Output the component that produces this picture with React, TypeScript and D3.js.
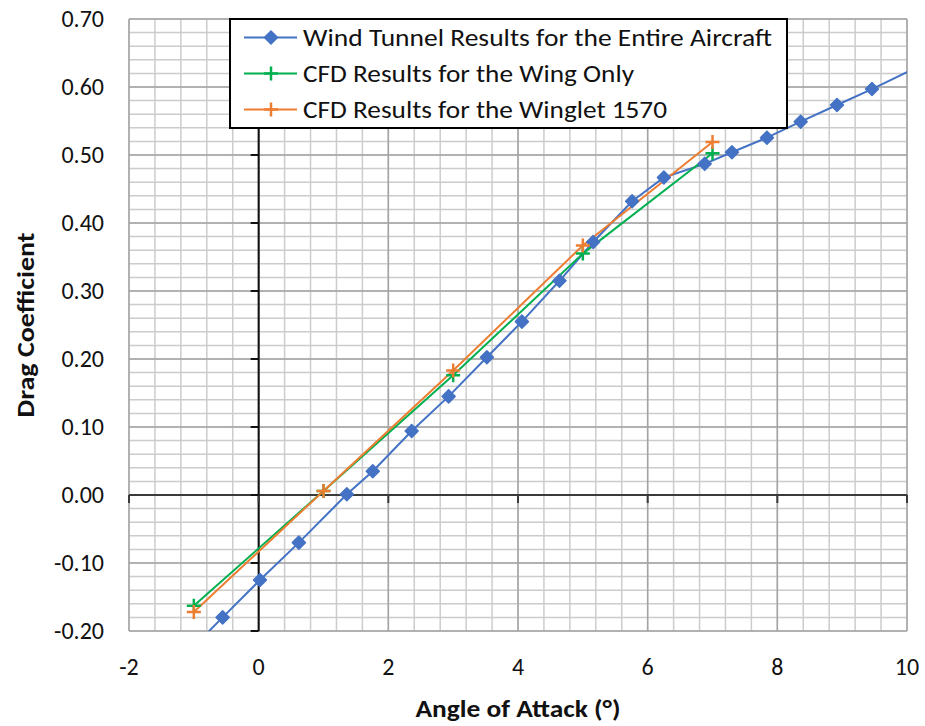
import React from 'react';
import * as d3 from 'd3';

const windAoA = [-1.15, -0.556, 0.02, 0.62, 1.36, 1.76, 2.36, 2.93, 3.52, 4.06, 4.64, 5.16, 5.76, 6.25, 6.88, 7.30, 7.84, 8.36, 8.92, 9.46, 10.55];
const windCd = [-0.237, -0.180, -0.125, -0.070, 0.001, 0.035, 0.094, 0.145, 0.2025, 0.255, 0.315, 0.372, 0.432, 0.467, 0.487, 0.504, 0.5255, 0.549, 0.5735, 0.597, 0.647];
const wingAoA = [-1, 1, 3, 5, 7];
const wingCd = [-0.163, 0.006, 0.176, 0.355, 0.5025];
const wingletAoA = [-1, 1, 3, 5, 7];
const wingletCd = [-0.172, 0.006, 0.183, 0.367, 0.519];
const xTicks = [-2, 0, 2, 4, 6, 8, 10];
const yTicks = [-0.2, -0.1, 0, 0.1, 0.2, 0.3, 0.4, 0.5, 0.6, 0.7];
const seriesNames = [
  'Wind Tunnel Results for the Entire Aircraft',
  'CFD Results for the Wing Only',
  'CFD Results for the Winglet 1570',
];
const xTitle = 'Angle of Attack (°)';
const yTitle = 'Drag Coefficient';

const BLUE = '#4472C4';
const GREEN = '#00B050';
const ORANGE = '#ED7D31';
const FONT = "Carlito, Calibri, Lato, 'Open Sans', sans-serif";

export default function App() {
  const W = 925, H = 726;
  const x = d3.scaleLinear().domain([-2, 10]).range([129, 907]);
  const y = d3.scaleLinear().domain([-0.2, 0.7]).range([631, 19]);
  const [x0, x1] = x.range();
  const [y0, y1] = y.range();

  const minorX = d3.range(0, 31).map(i => -2 + i * 0.4);
  const minorY = d3.range(0, 46).map(i => -0.2 + i * 0.02);

  const line = d3.line<[number, number]>().x(d => x(d[0])).y(d => y(d[1]));
  const wind = windAoA.map((v, i) => [v, windCd[i]] as [number, number]);
  const wing = wingAoA.map((v, i) => [v, wingCd[i]] as [number, number]);
  const winglet = wingletAoA.map((v, i) => [v, wingletCd[i]] as [number, number]);

  const fmtY = (v: number) => d3.format('.2f')(v).replace('\u2212', '-');

  const diamond = (cx: number, cy: number, r: number) =>
    `M${cx},${cy - r}L${cx + r},${cy}L${cx},${cy + r}L${cx - r},${cy}Z`;
  const plus = (cx: number, cy: number, r: number) =>
    `M${cx - r},${cy}L${cx + r},${cy}M${cx},${cy - r}L${cx},${cy + r}`;

  const legendRows = [
    { name: seriesNames[0], color: BLUE, kind: 'diamond', len: 469 },
    { name: seriesNames[1], color: GREEN, kind: 'plus', len: 331 },
    { name: seriesNames[2], color: ORANGE, kind: 'plus', len: 364 },
  ];

  return (
    <svg width={W} height={H} style={{ position: 'absolute', left: 0, top: 0, background: '#fff' }} fontFamily={FONT}>
      <defs>
        <clipPath id="plotClip">
          <rect x={x0} y={y1} width={x1 - x0} height={y0 - y1} />
        </clipPath>
      </defs>
      <rect x={0} y={0} width={W} height={H} fill="#fff" />
      {/* minor grid */}
      {minorX.map((v, i) => (
        <line key={'mx' + i} x1={x(v)} x2={x(v)} y1={y1} y2={y0} stroke="#cccccc" strokeWidth={1.5} />
      ))}
      {minorY.map((v, i) => (
        <line key={'my' + i} x1={x0} x2={x1} y1={y(v)} y2={y(v)} stroke="#cccccc" strokeWidth={1.5} />
      ))}
      {/* major grid */}
      {xTicks.map(v => (
        <line key={'Mx' + v} x1={x(v)} x2={x(v)} y1={y1} y2={y0} stroke="#a3a3a3" strokeWidth={1.5} />
      ))}
      {yTicks.map(v => (
        <line key={'My' + v} x1={x0} x2={x1} y1={y(v)} y2={y(v)} stroke="#a3a3a3" strokeWidth={1.5} />
      ))}
      {/* axes */}
      <line x1={x0} x2={x1} y1={y(0)} y2={y(0)} stroke="#3a3a3a" strokeWidth={2} />
      <line x1={x(0)} x2={x(0)} y1={y1} y2={y0} stroke="#111" strokeWidth={2} />
      {xTicks.map(v => (
        <line key={'tx' + v} x1={x(v)} x2={x(v)} y1={y(0)} y2={y(0) + 8} stroke="#3a3a3a" strokeWidth={2} />
      ))}
      {yTicks.map(v => (
        <line key={'ty' + v} x1={x(0) - 8} x2={x(0)} y1={y(v)} y2={y(v)} stroke="#111" strokeWidth={2} />
      ))}
      {/* series */}
      <g clipPath="url(#plotClip)">
        <path d={line(wind) || ''} fill="none" stroke={BLUE} strokeWidth={2} />
        <path d={line(wing) || ''} fill="none" stroke={GREEN} strokeWidth={2} />
        <path d={line(winglet) || ''} fill="none" stroke={ORANGE} strokeWidth={2} />
        {wind.map((d, i) => (
          <path key={'wd' + i} d={diamond(x(d[0]), y(d[1]), 6.5)} fill={BLUE} stroke={BLUE} strokeWidth={1.5} strokeLinejoin="round" />
        ))}
        {wing.map((d, i) => (
          <path key={'wg' + i} d={plus(x(d[0]), y(d[1]), 7)} fill="none" stroke={GREEN} strokeWidth={2.5} />
        ))}
        {winglet.map((d, i) => (
          <path key={'wl' + i} d={plus(x(d[0]), y(d[1]), 7)} fill="none" stroke={ORANGE} strokeWidth={2.5} />
        ))}
      </g>
      {/* tick labels */}
      {yTicks.map(v => (
        <text key={'ly' + v} x={104} y={y(v)} dy="0.35em" textAnchor="end" fontSize={24} fill="#111">
          {fmtY(v)}
        </text>
      ))}
      {xTicks.map(v => (
        <text key={'lx' + v} x={x(v)} y={667} dy="0.35em" textAnchor="middle" fontSize={24} fill="#111">
          {String(v)}
        </text>
      ))}
      {/* axis titles */}
      <text x={518} y={709} dy="0.35em" textAnchor="middle" fontSize={24} fontWeight="bold" fill="#111" textLength={205} lengthAdjust="spacingAndGlyphs">
        {xTitle}
      </text>
      <text transform="translate(26,325) rotate(-90)" dy="0.35em" textAnchor="middle" fontSize={24} fontWeight="bold" fill="#111" textLength={185} lengthAdjust="spacingAndGlyphs">
        {yTitle}
      </text>
      {/* legend */}
      <rect x={230} y={19} width={557} height={109} fill="#fff" stroke="#000" strokeWidth={2} />
      {legendRows.map((r, i) => {
        const cy = 37.5 + i * 36;
        return (
          <g key={'lg' + i}>
            <line x1={244} x2={297} y1={cy} y2={cy} stroke={r.color} strokeWidth={2} />
            {r.kind === 'diamond' ? (
              <path d={diamond(271, cy, 6.5)} fill={r.color} stroke={r.color} strokeWidth={1.5} strokeLinejoin="round" />
            ) : (
              <path d={plus(271, cy, 7)} fill="none" stroke={r.color} strokeWidth={2.5} />
            )}
            <text x={303} y={cy} dy="0.35em" fontSize={25} fill="#111" textLength={r.len} lengthAdjust="spacingAndGlyphs">
              {r.name}
            </text>
          </g>
        );
      })}
    </svg>
  );
}
